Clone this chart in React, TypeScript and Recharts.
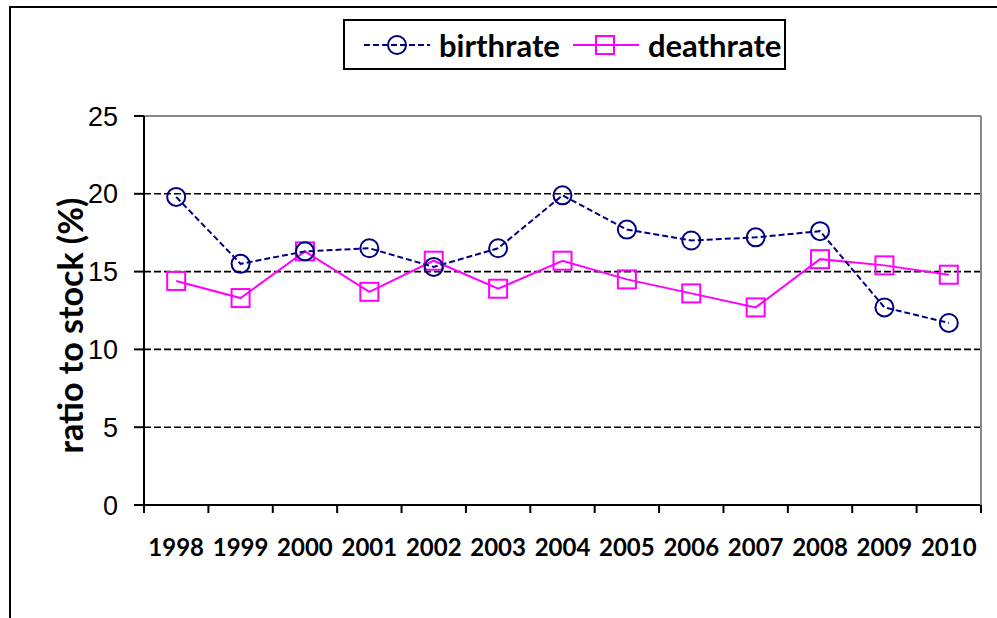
import React from 'react';
import { LineChart, Line, XAxis, YAxis, CartesianGrid, ReferenceLine } from 'recharts';

const years = ['1998', '1999', '2000', '2001', '2002', '2003', '2004', '2005', '2006', '2007', '2008', '2009', '2010'];
const birthrate = [19.8, 15.5, 16.3, 16.5, 15.3, 16.5, 19.9, 17.7, 17.0, 17.2, 17.6, 12.7, 11.7];
const deathrate = [14.4, 13.3, 16.3, 13.7, 15.7, 13.9, 15.7, 14.5, 13.6, 12.7, 15.8, 15.4, 14.8];
const yTicks = [0, 5, 10, 15, 20, 25];
const gridValues = [5, 10, 15, 20];

const data = years.map((year, i) => ({ year, birthrate: birthrate[i], deathrate: deathrate[i] }));

const NAVY = '#000080';
const MAGENTA = '#FF00FF';
const TICK_MARGIN = 34;

const CircleDot = (props: any) => {
    const { cx, cy } = props;
    if (cx == null || cy == null) return null;
    return <circle cx={cx} cy={cy} r={9} fill="none" stroke={NAVY} strokeWidth={2} />;
};

const SquareDot = (props: any) => {
    const { cx, cy } = props;
    if (cx == null || cy == null) return null;
    return <rect x={cx - 9} y={cy - 9} width={18} height={18} fill="none" stroke={MAGENTA} strokeWidth={2} />;
};

// year label, plus the tick marks that sit on the column boundaries
const YearTick = (props: any) => {
    const { x, y, payload, index, visibleTicksCount } = props;
    const half = payload.offset || 0;
    const axisY = y - TICK_MARGIN;
    const isLast = index === visibleTicksCount - 1;
    return (
        <g>
            <line x1={x - half} x2={x - half} y1={axisY} y2={axisY + 8} stroke="#000" strokeWidth={2} />
            {isLast && <line x1={x + half} x2={x + half} y1={axisY} y2={axisY + 8} stroke="#000" strokeWidth={2} />}
            <text
                x={x}
                y={y}
                dy="0.71em"
                textAnchor="middle"
                fill="#000"
                fontFamily="Lato, sans-serif"
                fontWeight="bold"
                fontSize={24}
            >
                {payload.value}
            </text>
        </g>
    );
};

const YLabel = (props: any) => {
    const { viewBox } = props;
    const x = viewBox.x + 55;
    const y = viewBox.y + viewBox.height / 2 + 15;
    return (
        <text
            transform={`translate(${x},${y}) rotate(-90)`}
            textAnchor="middle"
            dominantBaseline="central"
            fontFamily="Lato, sans-serif"
            fontWeight="bold"
            fontSize={34}
            fill="#000"
        >
            ratio to stock (%)
        </text>
    );
};

const legendText: React.CSSProperties = {
    fontFamily: 'Lato, sans-serif',
    fontWeight: 'bold',
    fontSize: 31,
    color: '#000',
};

const ChartLegend = () => (
    <div
        style={{
            position: 'absolute',
            left: 343,
            top: 19,
            width: 439,
            height: 47,
            border: '2px solid #000',
            background: '#fff',
            display: 'flex',
            alignItems: 'center',
        }}
    >
        <svg width={70} height={30} style={{ marginLeft: 17 }}>
            <line x1={2} y1={15} x2={68} y2={15} stroke={NAVY} strokeWidth={2} strokeDasharray="6 3" />
            <circle cx={35} cy={15} r={9} fill="none" stroke={NAVY} strokeWidth={2} />
        </svg>
        <span style={{ ...legendText, marginLeft: 7 }}>birthrate</span>
        <svg width={68} height={30} style={{ marginLeft: 12 }}>
            <line x1={1} y1={15} x2={67} y2={15} stroke={MAGENTA} strokeWidth={2} />
            <rect x={24} y={6} width={18} height={18} fill="none" stroke={MAGENTA} strokeWidth={2} />
        </svg>
        <span style={{ ...legendText, marginLeft: 8 }}>deathrate</span>
    </div>
);

export default function App() {
    return (
        <div style={{ position: 'fixed', left: 0, top: 0, width: 997, height: 618, overflow: 'hidden', background: '#fff' }}>
            <div
                style={{
                    position: 'absolute',
                    left: 9,
                    top: 6,
                    width: 1100,
                    height: 700,
                    border: '2px solid #000',
                }}
            />
            <div style={{ position: 'absolute', left: 0, top: 0 }}>
                <LineChart width={997} height={618} data={data} margin={{ top: 116, right: 15, left: 14, bottom: 53 }}>
                    <CartesianGrid
                        horizontal
                        vertical={false}
                        horizontalValues={gridValues}
                        stroke="#000"
                        strokeWidth={1.6}
                        strokeDasharray="7 3"
                    />
                    <XAxis
                        dataKey="year"
                        scale="band"
                        interval={0}
                        height={60}
                        tickLine={false}
                        tickSize={0}
                        tickMargin={TICK_MARGIN}
                        axisLine={{ stroke: '#000', strokeWidth: 2 }}
                        tick={<YearTick />}
                    />
                    <YAxis
                        domain={[0, 25]}
                        ticks={yTicks}
                        width={130}
                        tickSize={10}
                        tickMargin={16}
                        interval={0}
                        axisLine={{ stroke: '#000', strokeWidth: 2 }}
                        tickLine={{ stroke: '#000', strokeWidth: 2 }}
                        tick={{ fill: '#000', fontFamily: '"Liberation Sans", Arial, sans-serif', fontSize: 27 }}
                        label={<YLabel />}
                    />
                    <YAxis
                        yAxisId="frame"
                        orientation="right"
                        domain={[0, 25]}
                        width={1}
                        tick={false}
                        tickLine={false}
                        axisLine={{ stroke: '#888', strokeWidth: 2 }}
                    />
                    <ReferenceLine y={25} stroke="#888" strokeWidth={2} />
                    <Line
                        type="linear"
                        dataKey="deathrate"
                        stroke={MAGENTA}
                        strokeWidth={2}
                        dot={<SquareDot />}
                        activeDot={false}
                        isAnimationActive={false}
                    />
                    <Line
                        type="linear"
                        dataKey="birthrate"
                        stroke={NAVY}
                        strokeWidth={2}
                        strokeDasharray="6 3"
                        dot={<CircleDot />}
                        activeDot={false}
                        isAnimationActive={false}
                    />
                </LineChart>
            </div>
            <ChartLegend />
        </div>
    );
}
